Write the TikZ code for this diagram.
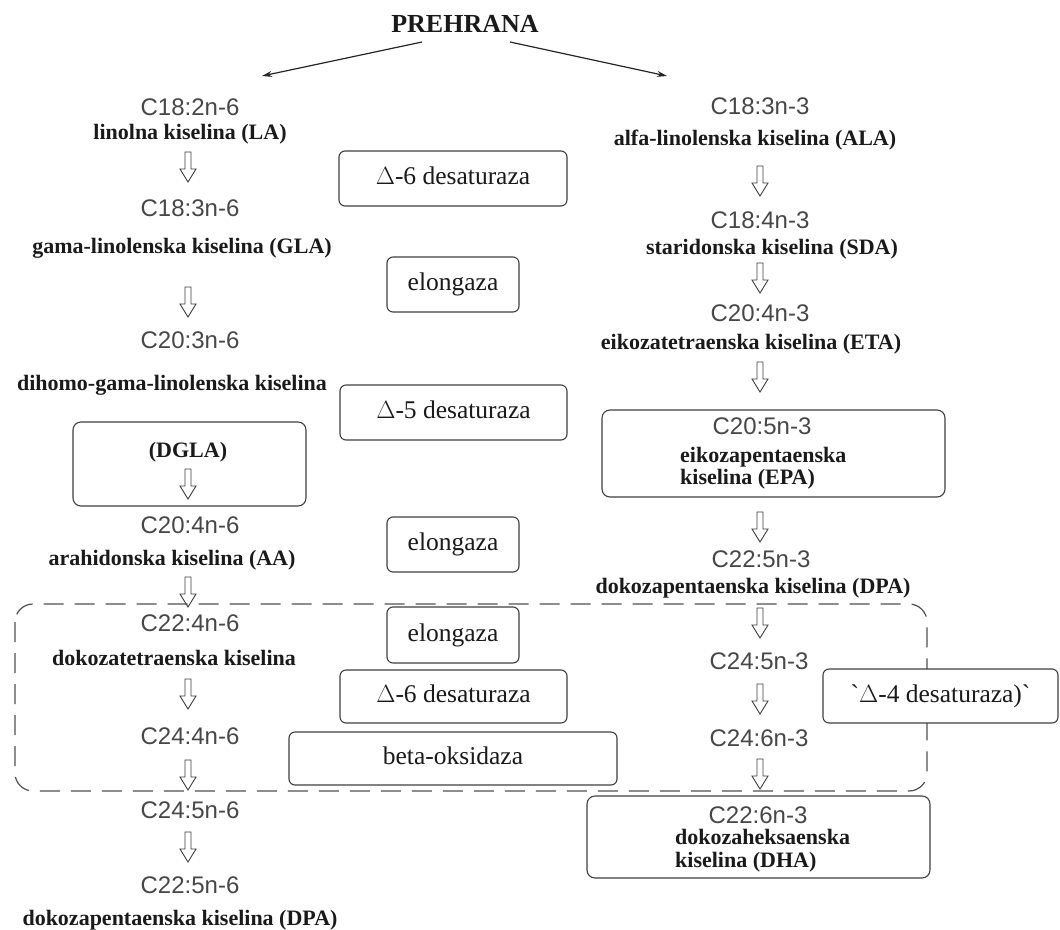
\documentclass[tikz,border=0pt]{standalone}
\usepackage{fontspec}
\setmainfont{Liberation Serif}
\newfontfamily\arialf{Liberation Sans}
\newfontfamily\rawserif{Liberation Serif}[Ligatures=TeXOff]
\usetikzlibrary{arrows.meta}
\definecolor{sgray}{HTML}{474747}
\definecolor{tblack}{HTML}{1A1A1A}
\definecolor{lgray}{HTML}{404040}
\definecolor{dgray}{HTML}{505050}
\tikzset{
  ctext/.style={font=\arialf\fontsize{24}{26}\selectfont, text=sgray, anchor=base, inner sep=0pt},
  ntext/.style={font=\bfseries\fontsize{22}{24}\selectfont, text=tblack, anchor=base, inner sep=0pt},
  nleft/.style={ntext, anchor=base west},
  enz/.style={draw=lgray, line width=1.1pt, rounded corners=6pt, inner sep=0pt,
    font=\fontsize{25.5}{27}\selectfont, text=tblack, text height=17pt, text depth=5pt},
  grp/.style={draw=lgray, line width=1.1pt, rounded corners=8pt, inner sep=0pt},
  dashbox/.style={draw=dgray, line width=1.2pt, dash pattern=on 20pt off 11pt, rounded corners=18pt},
  mainarrow/.style={draw=black!85, line width=1.2pt, -{Stealth[length=10pt,width=6pt]}},
  harrow/.pic={\draw[draw=black!75, line width=0.9pt, line join=miter]
     (-3,0) -- (-3,17) -- (-8,17) -- (0,30) -- (8,17) -- (3,17) -- (3,0) -- cycle;}
}
\begin{document}
\begin{tikzpicture}[x=1pt,y=-1pt]
\useasboundingbox (0,0) rectangle (1060,929);
\fill[white] (0,0) rectangle (1060,929);

% title and main arrows
\node[font=\bfseries\fontsize{26}{28}\selectfont, text=tblack, anchor=base, inner sep=0pt] (pre) at (465,32) {PREHRANA};
\coordinate (pl) at (422,42);
\coordinate (pr) at (510,42);
\coordinate (tl) at (262,76);
\coordinate (tr) at (667,76);
\draw[mainarrow] (pl) -- (tl);
\draw[mainarrow] (pr) -- (tr);

% group boxes
\node[grp, minimum width=233pt, minimum height=84pt] (dglabox) at (189.5,464) {};
\node[grp, minimum width=343pt, minimum height=87pt] (epabox) at (773.5,453.5) {};
\node[grp, minimum width=343pt, minimum height=82pt] (dhabox) at (758.5,837) {};
\draw[dashbox] (15,604) rectangle (927,791);

% enzyme boxes
\node[enz, minimum width=228pt, minimum height=55pt] (e1) at (453,178.5) {$\Delta$-6 desaturaza};
\node[enz, minimum width=132pt, minimum height=55pt] (e2) at (453,284.5) {elongaza};
\node[enz, minimum width=227pt, minimum height=55pt] (e3) at (453.5,412.5) {$\Delta$-5 desaturaza};
\node[enz, minimum width=132pt, minimum height=55pt] (e4) at (453,544.5) {elongaza};
\node[enz, fill=white, minimum width=132pt, minimum height=56pt] (e5) at (453,635) {elongaza};
\node[enz, minimum width=227pt, minimum height=53pt] (e6) at (453.5,696.5) {$\Delta$-6 desaturaza};
\node[enz, minimum width=328pt, minimum height=53pt] (e7) at (453,758.5) {beta-oksidaza};
\node[enz, fill=white, minimum width=235pt, minimum height=54pt] (e8) at (940.5,696) {{\rawserif\symbol{96}}$\Delta$-4 desaturaza){\rawserif\symbol{96}}};

% left column
\node[ctext] (c1) at (190,115) {C18:2n-6};
\node[ntext] (n1) at (190,139) {linolna kiselina (LA)};
\node[ctext] (c2) at (190,216) {C18:3n-6};
\node[ntext] (n2) at (182,253) {gama-linolenska kiselina (GLA)};
\node[ctext] (c3) at (190,348) {C20:3n-6};
\node[ntext] (n3) at (172,390) {dihomo-gama-linolenska kiselina};
\node[ntext] (n3b) at (188,457) {(DGLA)};
\node[ctext] (c4) at (190,533) {C20:4n-6};
\node[ntext] (n4) at (172,565) {arahidonska kiselina (AA)};
\node[ctext] (c5) at (190,631) {C22:4n-6};
\node[ntext] (n5) at (174,665) {dokozatetraenska kiselina};
\node[ctext] (c6) at (190,744) {C24:4n-6};
\node[ctext] (c7) at (190,818) {C24:5n-6};
\node[ctext] (c8) at (190,893) {C22:5n-6};
\node[ntext] (n8) at (180,925) {dokozapentaenska kiselina (DPA)};

% right column
\node[ctext] (r1) at (760,114) {C18:3n-3};
\node[ntext] (m1) at (755,145) {alfa-linolenska kiselina (ALA)};
\node[ctext] (r2) at (760,228) {C18:4n-3};
\node[ntext] (m2) at (772,254) {staridonska kiselina (SDA)};
\node[ctext] (r3) at (760,321) {C20:4n-3};
\node[ntext] (m3) at (751,349) {eikozatetraenska kiselina (ETA)};
\node[ctext] (r4) at (762,434) {C20:5n-3};
\node[nleft] (m4a) at (680,462) {eikozapentaenska};
\node[nleft] (m4b) at (680,484) {kiselina (EPA)};
\node[ctext] (r5) at (761,567) {C22:5n-3};
\node[ntext] (m5) at (753,593) {dokozapentaenska kiselina (DPA)};
\node[ctext] (r6) at (759,669) {C24:5n-3};
\node[ctext] (r7) at (759,746) {C24:6n-3};
\node[ctext] (r8) at (758,823) {C22:6n-3};
\node[nleft] (m8a) at (675,844) {dokozaheksaenska};
\node[nleft] (m8b) at (675,867) {kiselina (DHA)};

% hollow arrows, left
\foreach \yy in {152,287,469,577,679,760,832} \pic at (188,\yy) {harrow};
% hollow arrows, right
\foreach \yy in {166,263,362,512,608,684,759} \pic at (760,\yy) {harrow};
\end{tikzpicture}
\end{document}
